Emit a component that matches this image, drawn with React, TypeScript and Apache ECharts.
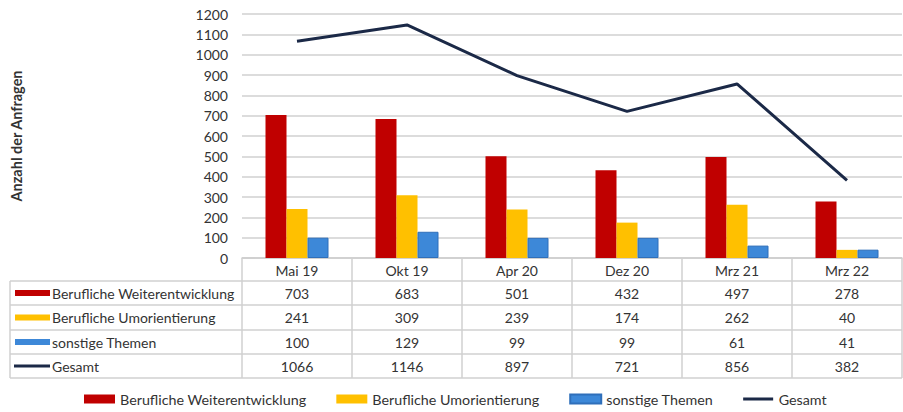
import React, { useEffect, useRef } from "react";
import * as echarts from "echarts";

const categories = ["Mai 19", "Okt 19", "Apr 20", "Dez 20", "Mrz 21", "Mrz 22"];
const weiterentwicklung = [703, 683, 501, 432, 497, 278];
const umorientierung = [241, 309, 239, 174, 262, 40];
const sonstige = [100, 129, 99, 99, 61, 41];
const gesamt = [1066, 1146, 897, 721, 856, 382];
const seriesNames = [
  "Berufliche Weiterentwicklung",
  "Berufliche Umorientierung",
  "sonstige Themen",
  "Gesamt",
];
const yTicks = { min: 0, max: 1200, interval: 100 };

const FONT = "Lato";
const COLORS = ["#c00000", "#ffc000", "#3d88d8", "#1b2947"];
const TEXT = "#333333";
const GRIDC = "#d0d0d0";
const LINE_ICON = "path://M0,0L0,0Z M0,30L0,30Z M0,10H100V20H0Z";

export default function App() {
  const ref = useRef<HTMLDivElement>(null);
  useEffect(() => {
    if (!ref.current) return;
    const chart = echarts.init(ref.current, null, { renderer: "svg" });
    const W = 903;
    const H = 412;
    const gl = 242;
    const gr = 902;
    const gt = 14;
    const gb = 258;
    const cellW = (gr - gl) / categories.length;
    const rowY = [258, 281, 305, 330, 354, 378];
    const tableLeft = 10;
    const rows = [weiterentwicklung, umorientierung, sonstige, gesamt];

    const g: any[] = [];
    const lineStyle = { stroke: GRIDC, lineWidth: 1.5 };
    g.push({ type: "line", shape: { x1: gl, y1: rowY[0], x2: gr, y2: rowY[0] }, style: lineStyle, silent: true });
    for (let r = 1; r < rowY.length; r++) {
      g.push({ type: "line", shape: { x1: tableLeft, y1: rowY[r], x2: gr, y2: rowY[r] }, style: lineStyle, silent: true });
    }
    g.push({ type: "line", shape: { x1: tableLeft, y1: rowY[1], x2: tableLeft, y2: rowY[5] }, style: lineStyle, silent: true });
    for (let c = 0; c <= categories.length; c++) {
      const x = gl + c * cellW;
      g.push({ type: "line", shape: { x1: x, y1: rowY[0], x2: x, y2: rowY[5] }, style: lineStyle, silent: true });
    }
    rows.forEach((vals, r) => {
      const yc = (rowY[r + 1] + rowY[r + 2]) / 2;
      if (r < 3) {
        g.push({ type: "rect", shape: { x: 15, y: yc - 3, width: 35, height: 6 }, style: { fill: COLORS[r] }, silent: true });
      } else {
        g.push({ type: "line", shape: { x1: 14, y1: yc, x2: 50, y2: yc }, style: { stroke: COLORS[3], lineWidth: 3 }, silent: true });
      }
      g.push({
        type: "text",
        x: 52,
        y: yc,
        style: { text: seriesNames[r], fill: TEXT, font: `14px ${FONT}`, textAlign: "left", textVerticalAlign: "middle" },
        silent: true,
      });
      vals.forEach((v, c) => {
        g.push({
          type: "text",
          x: gl + (c + 0.5) * cellW,
          y: yc,
          style: { text: String(v), fill: TEXT, font: `14px ${FONT}`, textAlign: "center", textVerticalAlign: "middle" },
          silent: true,
        });
      });
    });

    chart.setOption({
      animation: false,
      textStyle: { fontFamily: FONT },
      grid: { left: gl, right: W - gr, top: gt, bottom: H - gb, containLabel: false },
      legend: {
        top: 392,
        left: 84,
        padding: 0,
        itemWidth: 31,
        itemHeight: 9,
        itemGap: 30,
        textStyle: { fontFamily: FONT, fontSize: 14.3, color: TEXT },
        data: seriesNames.map((n, i) => ({ name: n, icon: i < 3 ? "rect" : LINE_ICON })),
      },
      xAxis: {
        type: "category",
        data: categories,
        axisLine: { show: true, lineStyle: { color: GRIDC, width: 1.5 } },
        axisTick: { show: false },
        axisLabel: { color: TEXT, fontSize: 14, fontFamily: FONT, margin: 5 },
      },
      yAxis: {
        type: "value",
        min: yTicks.min,
        max: yTicks.max,
        interval: yTicks.interval,
        name: "Anzahl der Anfragen",
        nameLocation: "middle",
        nameRotate: 90,
        nameGap: 218,
        nameTextStyle: { fontFamily: FONT, fontSize: 14.5, fontWeight: "bold", color: TEXT },
        axisLine: { show: false },
        axisTick: { show: false },
        axisLabel: { color: TEXT, fontSize: 14, fontFamily: FONT, margin: 14, formatter: (v: number) => String(v) },
        splitLine: { lineStyle: { color: GRIDC, width: 1.5 } },
      },
      series: [
        { name: seriesNames[0], type: "bar", data: weiterentwicklung, barWidth: 21, barGap: "0%", itemStyle: { color: COLORS[0] } },
        { name: seriesNames[1], type: "bar", data: umorientierung, barWidth: 21, barGap: "0%", itemStyle: { color: COLORS[1] } },
        { name: seriesNames[2], type: "bar", data: sonstige, barWidth: 21, barGap: "0%", itemStyle: { color: COLORS[2], borderColor: "#2f6fba", borderWidth: 1 } },
        { name: seriesNames[3], type: "line", data: gesamt, symbol: "none", lineStyle: { color: COLORS[3], width: 3 }, itemStyle: { color: COLORS[3] } },
      ],
      graphic: g,
    });
    return () => chart.dispose();
  }, []);
  return <div ref={ref} style={{ position: "absolute", left: 0, top: 0, width: 903, height: 412 }} />;
}
